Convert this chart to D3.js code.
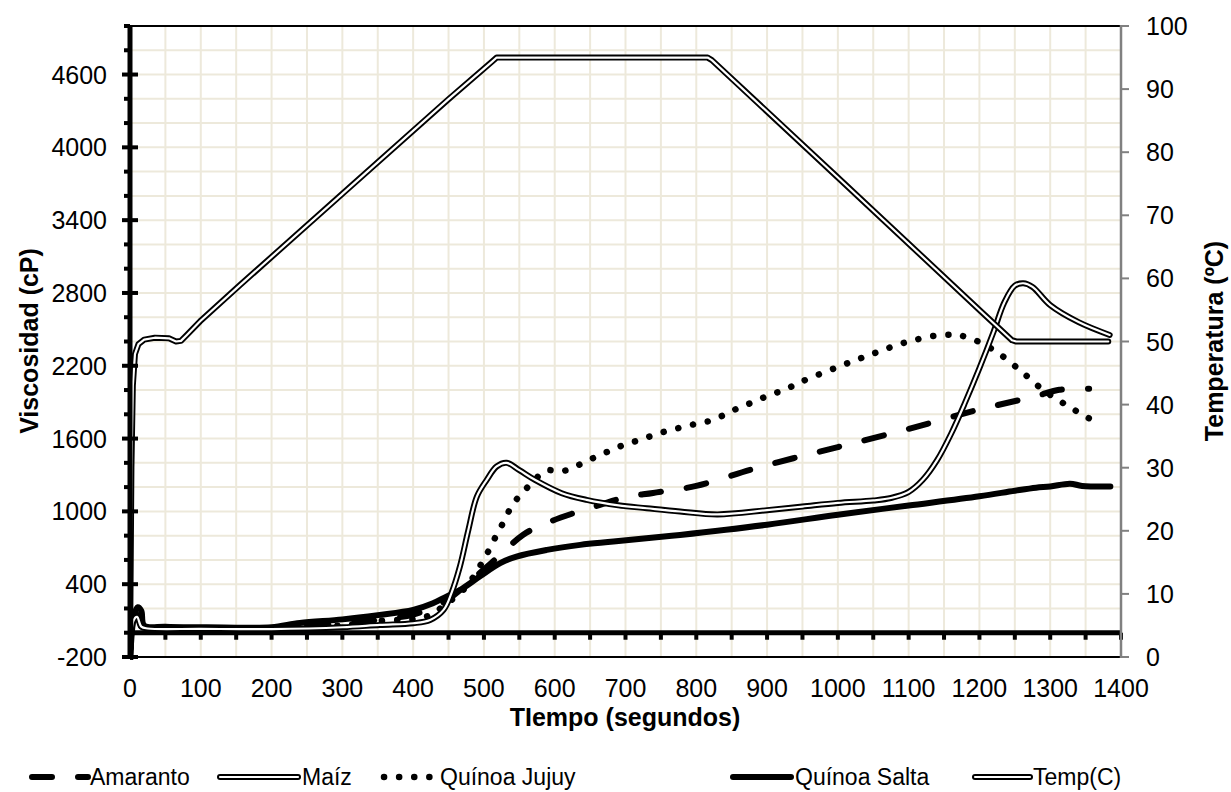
<!DOCTYPE html>
<html lang="es">
<head>
<meta charset="UTF-8">
<title>Viscosidad y temperatura</title>
<script src="https://cdn.jsdelivr.net/npm/d3@7/dist/d3.min.js"></script>
<style>
  body { margin: 0; background: #fff; }
  svg text { font-family: "Liberation Sans", Arial, sans-serif; fill: #000; }
</style>
</head>
<body>
<svg id="chart" width="1231" height="792"></svg>
<script>
// --- datos (t en segundos, viscosidad en cP, temperatura en ºC)
const amaranto = [[0,-250],[5,120],[10,150],[16,60],[25,40],[100,35],[200,38],[250,50],[300,70],[350,105],[400,150],[440,240],[470,370],[499,517],[523,640],[555,806],[589,905],[628,988],[664,1054],[703,1120],[739,1152],[800,1210],[876,1342],[937,1438],[1000,1530],[1100,1680],[1200,1840],[1280,1950],[1313,2002],[1355,2010]];
const maiz = [[0,-250],[5,100],[10,130],[16,50],[25,35],[100,32],[200,30],[300,45],[353,64],[400,78],[424,105],[443,188],[454,325],[466,545],[478,847],[490,1122],[504,1260],[518,1370],[532,1400],[550,1340],[572,1260],[610,1150],[645,1095],[690,1050],[730,1026],[777,999],[830,975],[900,1010],[950,1040],[1000,1070],[1050,1090],[1075,1110],[1100,1160],[1120,1260],[1140,1420],[1160,1640],[1180,1900],[1200,2180],[1220,2480],[1235,2720],[1250,2860],[1262,2880],[1275,2850],[1300,2700],[1340,2560],[1384,2454]];
const jujuy = [[0,-250],[5,110],[10,140],[16,55],[25,38],[100,35],[200,36],[300,60],[350,95],[419,133],[445,230],[473,366],[486,468],[498,586],[509,702],[519,820],[530,936],[540,1054],[555,1155],[570,1250],[588,1337],[610,1330],[631,1375],[651,1430],[672,1485],[692,1535],[713,1576],[734,1617],[756,1658],[778,1691],[800,1722],[821,1749],[842,1802],[862,1859],[883,1906],[904,1961],[925,2002],[944,2057],[1000,2190],[1050,2300],[1100,2400],[1150,2455],[1180,2440],[1220,2330],[1260,2150],[1290,2000],[1311,1919],[1330,1851],[1350,1782],[1370,1722]];
const salta = [[0,-250],[6,150],[11,210],[16,180],[20,60],[50,50],[100,45],[150,42],[200,45],[240,80],[300,110],[350,145],[400,188],[428,243],[447,298],[466,352],[494,463],[523,573],[546,628],[589,683],[636,724],[683,751],[777,806],[900,890],[1000,973],[1100,1048],[1200,1124],[1250,1170],[1280,1195],[1300,1205],[1328,1228],[1345,1210],[1385,1205]];
const temp = [[0,0],[2,30],[4,43],[7,48],[12,49.6],[20,50.3],[35,50.6],[55,50.5],[65,50],[72,50.1],[80,51],[99,53.2],[155,58.9],[300,73.4],[450,88.4],[512,94.4],[518,95],[816,95],[822,94.6],[1000,76],[1200,55],[1246,50.2],[1252,50],[1382,50]];

const xTicks = d3.range(0, 1401, 100);
const yLeftTicks = [-200, 400, 1000, 1600, 2200, 2800, 3400, 4000, 4600];
const yRightTicks = d3.range(0, 101, 10);

const svg = d3.select("#chart");
const L = 130, R = 1121, T = 26, B = 657;

const x = d3.scaleLinear().domain([0, 1400]).range([L, R]);
const y = d3.scaleLinear().domain([-200, 5000]).range([B, T]);
const y2 = d3.scaleLinear().domain([0, 100]).range([B, T]);

// rejilla
const grid = svg.append("g").attr("stroke", "#ede9db").attr("stroke-width", 2);
d3.range(50, 1400, 50).forEach(v => {
  grid.append("line").attr("x1", x(v)).attr("x2", x(v)).attr("y1", T).attr("y2", B);
});
d3.range(0, 5000, 200).forEach(v => {
  grid.append("line").attr("x1", L).attr("x2", R).attr("y1", y(v)).attr("y2", y(v));
});

// marco superior e inferior
svg.append("line").attr("x1", L).attr("x2", R).attr("y1", T).attr("y2", T).attr("stroke", "#000").attr("stroke-width", 2);
svg.append("line").attr("x1", L).attr("x2", R).attr("y1", B).attr("y2", B).attr("stroke", "#000").attr("stroke-width", 2);

// eje x en viscosidad = 0
svg.append("line").attr("x1", L).attr("x2", R).attr("y1", y(0)).attr("y2", y(0)).attr("stroke", "#000").attr("stroke-width", 5);
d3.range(50, 1401, 50).forEach(v => {
  svg.append("rect").attr("x", x(v) - 2).attr("y", y(0)).attr("width", 4).attr("height", 7).attr("fill", "#000");
});

// curvas
svg.append("clipPath").attr("id", "clip").append("rect")
  .attr("x", L).attr("y", T).attr("width", R - L).attr("height", B - T + 3);
const plot = svg.append("g").attr("clip-path", "url(#clip)");

const line = d3.line().x(d => x(d[0])).y(d => y(d[1])).curve(d3.curveCatmullRom.alpha(0.5));
const line2 = d3.line().x(d => x(d[0])).y(d => y2(d[1]));

function drawStyled(g, path, style) {
  if (style === "double") {
    g.append("path").attr("d", path).attr("fill", "none").attr("stroke", "#000").attr("stroke-width", 6).attr("stroke-linejoin", "round").attr("stroke-linecap", "round");
    g.append("path").attr("d", path).attr("fill", "none").attr("stroke", "#fff").attr("stroke-width", 2.2).attr("stroke-linejoin", "round").attr("stroke-linecap", "round");
  } else if (style === "dash") {
    g.append("path").attr("d", path).attr("fill", "none").attr("stroke", "#000").attr("stroke-width", 6).attr("stroke-dasharray", "20,26").attr("stroke-linecap", "round");
  } else if (style === "dot") {
    g.append("path").attr("d", path).attr("fill", "none").attr("stroke", "#000").attr("stroke-width", 6.5).attr("stroke-dasharray", "0.1,15").attr("stroke-linecap", "round");
  } else {
    g.append("path").attr("d", path).attr("fill", "none").attr("stroke", "#000").attr("stroke-width", 6).attr("stroke-linejoin", "round").attr("stroke-linecap", "round");
  }
}

drawStyled(plot, line(salta), "solid");
drawStyled(plot, line(amaranto), "dash");
drawStyled(plot, line(jujuy), "dot");
drawStyled(plot, line(maiz), "double");
drawStyled(plot, line2(temp), "double");

// eje izquierdo
const axL = svg.append("g");
axL.append("line").attr("x1", L).attr("x2", L).attr("y1", T).attr("y2", B).attr("stroke", "#000").attr("stroke-width", 5);
d3.range(-200, 5001, 200).forEach(v => {
  const major = yLeftTicks.includes(v);
  axL.append("rect").attr("x", major ? L - 8 : L - 6).attr("y", y(v) - 2)
    .attr("width", major ? 16 : 6).attr("height", 4).attr("fill", "#000");
});
axL.selectAll("text.tl").data(yLeftTicks).enter().append("text")
  .attr("x", 107).attr("y", d => y(d)).attr("dy", "0.36em")
  .attr("text-anchor", "end").attr("font-size", 25).text(d => d);

// eje derecho
const axR = svg.append("g");
axR.append("line").attr("x1", R).attr("x2", R).attr("y1", T - 1).attr("y2", B + 1).attr("stroke", "#808080").attr("stroke-width", 2.5);
yRightTicks.forEach(v => {
  axR.append("line").attr("x1", R).attr("x2", R + 8).attr("y1", y2(v)).attr("y2", y2(v)).attr("stroke", "#808080").attr("stroke-width", 2);
});
axR.selectAll("text").data(yRightTicks).enter().append("text")
  .attr("x", 1146).attr("y", d => y2(d)).attr("dy", "0.36em")
  .attr("font-size", 25).text(d => d);

// etiquetas eje x
svg.append("g").selectAll("text").data(xTicks).enter().append("text")
  .attr("x", d => x(d)).attr("y", 688).attr("dy", "0.36em")
  .attr("text-anchor", "middle").attr("font-size", 25).text(d => d);

// títulos
svg.append("text").attr("x", 625).attr("y", 726).attr("text-anchor", "middle")
  .attr("font-size", 25).attr("font-weight", "bold").text("TIempo (segundos)");
svg.append("text").attr("transform", "translate(38,341) rotate(-90)").attr("text-anchor", "middle")
  .attr("font-size", 25).attr("font-weight", "bold").text("Viscosidad (cP)");
svg.append("text").attr("transform", "translate(1223,341) rotate(-90)").attr("text-anchor", "middle")
  .attr("font-size", 25).attr("font-weight", "bold").text("Temperatura (ºC)");

// leyenda
const legendItems = [
  { name: "Amaranto", style: "dash", x0: 32, x1: 88, tx: 90 },
  { name: "Maíz", style: "double", x0: 220, x1: 298, tx: 302 },
  { name: "Quínoa Jujuy", style: "dot", x0: 384, x1: 437, tx: 440 },
  { name: "Quínoa Salta", style: "solid", x0: 733, x1: 791, tx: 795 },
  { name: "Temp(C)", style: "double", x0: 975, x1: 1030, tx: 1033 }
];
const lg = svg.append("g");
legendItems.forEach(it => {
  const ly = 777;
  const p = `M${it.x0},${ly}L${it.x1},${ly}`;
  drawStyled(lg, p, it.style);
  lg.append("text").attr("x", it.tx).attr("y", ly).attr("dy", "0.36em")
    .attr("font-size", 23).text(it.name);
});
</script>
</body>
</html>
